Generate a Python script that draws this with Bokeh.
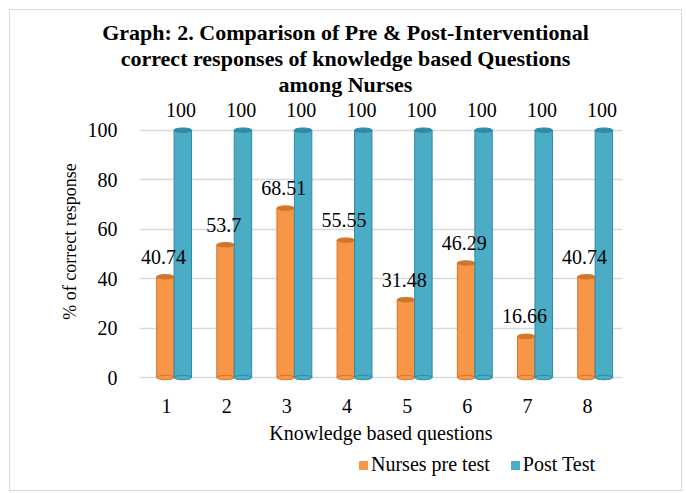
from bokeh.plotting import figure
from bokeh.layouts import column
from bokeh.models import ColumnDataSource, Div, Legend, LegendItem, FixedTicker, Range1d
from bokeh.transform import dodge
from bokeh.embed import file_html
from bokeh.resources import INLINE
from bokeh.core.properties import value

questions = [1, 2, 3, 4, 5, 6, 7, 8]
pre_test = [40.74, 53.7, 68.51, 55.55, 31.48, 46.29, 16.66, 40.74]
post_test = [100, 100, 100, 100, 100, 100, 100, 100]
pre_labels = ["40.74", "53.7", "68.51", "55.55", "31.48", "46.29", "16.66", "40.74"]
post_labels = ["100", "100", "100", "100", "100", "100", "100", "100"]
y_ticks = [0, 20, 40, 60, 80, 100]
series_names = ["Nurses pre test", "Post Test"]
title_lines = ["Graph: 2. Comparison of Pre &amp; Post-Interventional",
               "correct responses of knowledge based Questions",
               "among Nurses"]

FONT = "Liberation Serif"
ORANGE = "#F79646"
ORANGE_D = "#D2762C"
BLUE = "#4BACC6"
BLUE_D = "#2F8AA3"

# title block (centred over the whole chart)
title_html = ('<div style="width:671px; padding-top:10px; text-align:center; '
              'font-family:\'Liberation Serif\'; font-size:22px; font-weight:bold; '
              'line-height:26px; color:#000000;">'
              + "<br>".join(title_lines) + "</div>")
title_div = Div(text=title_html, width=671, height=88, margin=(0, 0, 0, 0))

src = ColumnDataSource(dict(q=questions, pre=pre_test, post=post_test,
                            pre_lab=pre_labels, post_lab=post_labels,
                            zero=[0] * len(questions)))

p = figure(width=671, height=354, x_range=Range1d(0.55, 8.58), y_range=Range1d(-2, 112),
           output_backend="svg", toolbar_location=None,
           min_border_left=129, min_border_right=59, min_border_top=2, min_border_bottom=70)
p.title.visible = False

W = 0.29
EH = 1.8
pre_x = dodge("q", -0.02, range=p.x_range)
post_x = dodge("q", 0.27, range=p.x_range)

p.vbar(x=pre_x, top="pre", width=W, source=src, fill_color=ORANGE, line_color=ORANGE_D, line_width=1)
p.ellipse(x=pre_x, y="zero", width=W, height=EH, source=src, fill_color=ORANGE, line_color=ORANGE_D)
p.ellipse(x=pre_x, y="pre", width=W, height=EH, source=src, fill_color=ORANGE_D, line_color=ORANGE_D)

p.vbar(x=post_x, top="post", width=W, source=src, fill_color=BLUE, line_color=BLUE_D, line_width=1)
p.ellipse(x=post_x, y="zero", width=W, height=EH, source=src, fill_color=BLUE, line_color=BLUE_D)
p.ellipse(x=post_x, y="post", width=W, height=EH, source=src, fill_color=BLUE_D, line_color=BLUE_D)

p.text(x=dodge("q", -0.05, range=p.x_range), y="pre", text="pre_lab", source=src,
       text_align="center", text_baseline="middle", y_offset=-20,
       text_font=value(FONT), text_font_size="20px", text_color="#000000")
p.text(x=dodge("q", 0.24, range=p.x_range), y="post", text="post_lab", source=src,
       text_align="center", text_baseline="middle", y_offset=-20,
       text_font=value(FONT), text_font_size="20px", text_color="#000000")

p.xgrid.visible = False
p.ygrid.ticker = FixedTicker(ticks=y_ticks)
p.ygrid.grid_line_color = "#D9D9D9"
p.ygrid.grid_line_width = 1.5

p.yaxis.ticker = FixedTicker(ticks=y_ticks)
p.xaxis.ticker = FixedTicker(ticks=questions)
for ax in (p.xaxis[0], p.yaxis[0]):
    ax.axis_line_color = None
    ax.major_tick_line_color = None
    ax.minor_tick_line_color = None
    ax.major_label_text_font = FONT
    ax.major_label_text_font_size = "20px"
    ax.major_label_text_color = "#000000"
    ax.axis_label_text_font = FONT
    ax.axis_label_text_font_style = "normal"
    ax.axis_label_text_color = "#000000"
p.xaxis.axis_label = "Knowledge based questions"
p.xaxis.axis_label_text_font_size = "20px"
p.yaxis.axis_label = "% of correct response"
p.yaxis.axis_label_text_font_size = "18px"
p.xaxis.major_label_standoff = 10
p.xaxis.axis_label_standoff = 6
p.yaxis.major_label_standoff = 16
p.yaxis.axis_label_standoff = 5

p.outline_line_color = None

# legend strip (no axes, frame spans the full width)
lg = figure(width=671, height=38, x_range=Range1d(0, 1), y_range=Range1d(0, 1),
            x_axis_location=None, y_axis_location=None,
            output_backend="svg", toolbar_location=None,
            min_border_left=0, min_border_right=0, min_border_top=0, min_border_bottom=0)
lg.title.visible = False
lg.grid.visible = False
lg.outline_line_color = None
nan = float("nan")
swatch = ColumnDataSource(dict(x=[nan], top=[nan]))
r1 = lg.vbar(x="x", top="top", width=0.1, source=swatch, fill_color=ORANGE, line_color=ORANGE)
r2 = lg.vbar(x="x", top="top", width=0.1, source=swatch, fill_color=BLUE, line_color=BLUE)
legend = Legend(items=[LegendItem(label=series_names[0], renderers=[r1]),
                       LegendItem(label=series_names[1], renderers=[r2])],
                orientation="horizontal", location=(219, 14),
                label_text_font=FONT, label_text_font_size="20px", label_text_color="#000000",
                glyph_width=10, glyph_height=10, border_line_color=None,
                background_fill_alpha=0, margin=0, padding=2, spacing=20, label_standoff=3)
lg.add_layout(legend, "center")

layout = column(title_div, p, lg, spacing=0, margin=(9, 0, 0, 9),
                styles={"border": "1px solid #D9D9D9"})

open("out.html", "w").write(file_html(layout, INLINE))
